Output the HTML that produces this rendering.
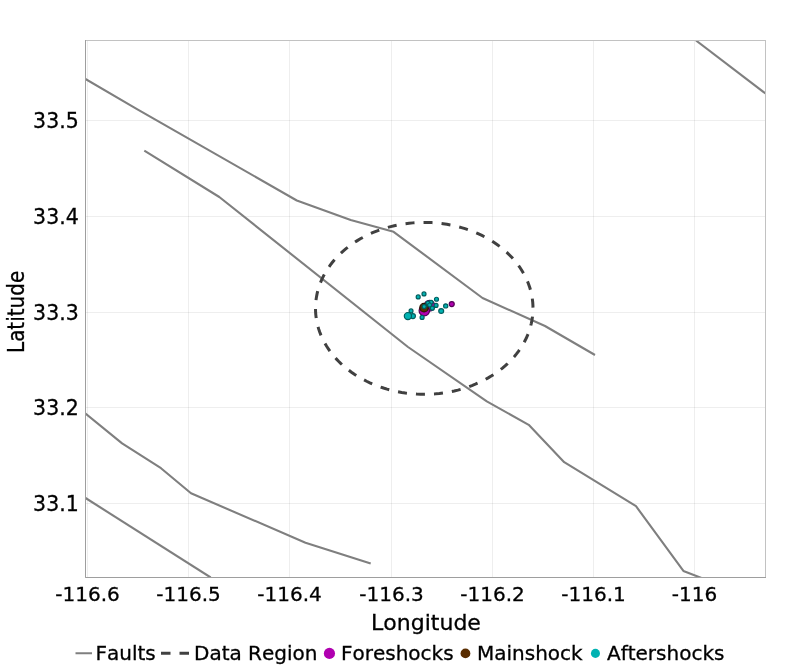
<!DOCTYPE html>
<html lang="en"><head><meta charset="utf-8"><title>Fault map</title>
<style>html,body{margin:0;padding:0;background:#fff}svg{display:block}text{font-kerning:none;stroke:#000;stroke-width:0.3px;font-family:"DejaVu Sans","Liberation Sans",sans-serif;fill:#000}</style></head><body>
<svg width="800" height="668" viewBox="0 0 800 668">
<rect width="800" height="668" fill="#fff"/>
<defs><clipPath id="c"><rect x="85.5" y="40.5" width="680" height="537"/></clipPath></defs>
<g stroke="#000" stroke-opacity="0.065" stroke-width="1" fill="none">
<line x1="87.5" y1="40.5" x2="87.5" y2="577.5"/>
<line x1="188.5" y1="40.5" x2="188.5" y2="577.5"/>
<line x1="289.5" y1="40.5" x2="289.5" y2="577.5"/>
<line x1="391.5" y1="40.5" x2="391.5" y2="577.5"/>
<line x1="492.5" y1="40.5" x2="492.5" y2="577.5"/>
<line x1="593.5" y1="40.5" x2="593.5" y2="577.5"/>
<line x1="694.5" y1="40.5" x2="694.5" y2="577.5"/>
<line x1="85.5" y1="120.5" x2="765.5" y2="120.5"/>
<line x1="85.5" y1="216.5" x2="765.5" y2="216.5"/>
<line x1="85.5" y1="312.5" x2="765.5" y2="312.5"/>
<line x1="85.5" y1="407.5" x2="765.5" y2="407.5"/>
<line x1="85.5" y1="503.5" x2="765.5" y2="503.5"/>
</g>
<g clip-path="url(#c)">
<g stroke="#7f7f7f" stroke-width="2.1" fill="none" stroke-linejoin="round">
<polyline points="85.4,78.9 137,109.1 296.8,200.5 350.7,220 393.6,231.8 482.5,298 545,326 595,355"/>
<polyline points="144.3,150.7 219.3,197 408,347 486.8,401.4 528.7,424.8 564.2,462.2 636,506.2 683.4,570.9 701.5,578"/>
<polyline points="696,40.5 765.5,93.5"/>
<polyline points="85.5,413.6 122.1,443.4 161,468.2 191,493.3 305.5,542.7 370.7,563.4"/>
<polyline points="85.5,498 210.7,577.5"/>
</g>
<polyline fill="none" stroke="#404040" stroke-width="3" stroke-dasharray="9,9.05" stroke-dashoffset="-0.75" points="533.00,308.35 532.93,305.35 532.74,302.35 532.40,299.37 531.94,296.39 531.35,293.42 530.62,290.48 529.77,287.56 528.79,284.66 527.68,281.79 526.44,278.95 525.08,276.15 523.60,273.39 521.99,270.67 520.27,268.00 518.43,265.38 516.48,262.80 514.41,260.29 512.23,257.83 509.95,255.43 507.56,253.10 505.07,250.84 502.48,248.64 499.79,246.52 497.02,244.48 494.15,242.51 491.20,240.62 488.17,238.81 485.06,237.09 481.88,235.46 478.62,233.92 475.31,232.46 471.92,231.10 468.48,229.83 464.99,228.66 461.44,227.58 457.86,226.61 454.23,225.73 450.56,224.95 446.86,224.28 443.13,223.71 439.39,223.24 435.62,222.87 431.84,222.61 428.05,222.45 424.25,222.40 420.45,222.45 416.66,222.61 412.88,222.87 409.11,223.24 405.37,223.71 401.64,224.28 397.94,224.95 394.27,225.73 390.64,226.61 387.06,227.58 383.51,228.66 380.02,229.83 376.58,231.10 373.19,232.46 369.88,233.92 366.62,235.46 363.44,237.09 360.33,238.81 357.30,240.62 354.35,242.51 351.48,244.48 348.71,246.52 346.02,248.64 343.43,250.84 340.94,253.10 338.55,255.43 336.27,257.83 334.09,260.29 332.02,262.80 330.07,265.38 328.23,268.00 326.51,270.67 324.90,273.39 323.42,276.15 322.06,278.95 320.82,281.79 319.71,284.66 318.73,287.56 317.88,290.48 317.15,293.42 316.56,296.39 316.10,299.37 315.76,302.35 315.57,305.35 315.50,308.35 315.57,311.35 315.76,314.35 316.10,317.33 316.56,320.31 317.15,323.28 317.88,326.22 318.73,329.14 319.71,332.04 320.82,334.91 322.06,337.75 323.42,340.55 324.90,343.31 326.51,346.03 328.23,348.70 330.07,351.33 332.02,353.90 334.09,356.41 336.27,358.87 338.55,361.27 340.94,363.60 343.43,365.86 346.02,368.06 348.71,370.18 351.48,372.22 354.35,374.19 357.30,376.08 360.33,377.89 363.44,379.61 366.62,381.24 369.87,382.78 373.19,384.24 376.58,385.60 380.02,386.87 383.51,388.04 387.06,389.12 390.64,390.09 394.27,390.97 397.94,391.75 401.64,392.42 405.37,392.99 409.11,393.46 412.88,393.83 416.66,394.09 420.45,394.25 424.25,394.30 428.05,394.25 431.84,394.09 435.62,393.83 439.39,393.46 443.13,392.99 446.86,392.42 450.56,391.75 454.23,390.97 457.86,390.09 461.44,389.12 464.99,388.04 468.48,386.87 471.92,385.60 475.31,384.24 478.62,382.78 481.88,381.24 485.06,379.61 488.17,377.89 491.20,376.08 494.15,374.19 497.02,372.22 499.79,370.18 502.48,368.06 505.07,365.86 507.56,363.60 509.95,361.27 512.23,358.87 514.41,356.41 516.48,353.90 518.43,351.33 520.27,348.70 521.99,346.03 523.60,343.31 525.08,340.55 526.44,337.75 527.68,334.91 528.79,332.04 529.77,329.14 530.62,326.22 531.35,323.28 531.94,320.31 532.40,317.33 532.74,314.35 532.93,311.35 533.00,308.35"/>
<g fill="#b000b0" stroke="#560056" stroke-width="1.2">
<circle cx="429.5" cy="305.8" r="5.40"/>
<circle cx="424.3" cy="310.7" r="5.20"/>
<circle cx="451.75" cy="304.05" r="2.50"/>
</g>
<g fill="#592d00" stroke="#2a1400" stroke-width="1.2">
<circle cx="424.05" cy="307.65" r="4.25"/>
</g>
<g fill="#00b2b2" stroke="#005e5e" stroke-width="1.2">
<circle cx="418.2" cy="296.9" r="2.00"/>
<circle cx="424" cy="293.9" r="2.00"/>
<circle cx="436.5" cy="299.25" r="2.00"/>
<circle cx="445.7" cy="305.9" r="2.10"/>
<circle cx="441.2" cy="311" r="2.45"/>
<circle cx="436.1" cy="305.4" r="1.95"/>
<circle cx="432.3" cy="308.2" r="2.00"/>
<circle cx="431.1" cy="302.3" r="2.00"/>
<circle cx="427.9" cy="303.1" r="2.00"/>
<circle cx="429.6" cy="305.0" r="2.00"/>
<circle cx="424.2" cy="306.6" r="2.00"/>
<circle cx="422.1" cy="317.4" r="2.00"/>
<circle cx="411.05" cy="310.9" r="1.95"/>
<circle cx="412.9" cy="316.1" r="2.50"/>
<circle cx="407.9" cy="316.1" r="3.60"/>
</g>
</g>
<rect x="85.5" y="40.5" width="680.0" height="537.0" fill="none" stroke="#c2c2c2" stroke-width="1"/>
<path d="M85.5,40.0V577.5H766.0" fill="none" stroke="#9e9e9e" stroke-width="1"/>
<g font-size="20px" text-anchor="middle">
<text x="87.5" y="600.5">-116.6</text>
<text x="188.5" y="600.5">-116.5</text>
<text x="289.5" y="600.5">-116.4</text>
<text x="391.5" y="600.5">-116.3</text>
<text x="492.5" y="600.5">-116.2</text>
<text x="593.5" y="600.5">-116.1</text>
<text x="694.5" y="600.5">-116</text>
</g>
<g font-size="20.5px">
<text x="33.1" y="127.9">33.5</text>
<text x="33.1" y="223.9">33.4</text>
<text x="33.1" y="319.9">33.3</text>
<text x="33.1" y="414.9">33.2</text>
<text x="33.1" y="510.9">33.1</text>
</g>
<text x="426" y="630" font-size="22px" text-anchor="middle">Longitude</text>
<text transform="translate(24.4,311.9) rotate(-90)" font-size="22.2px" font-stretch="condensed" style="font-stretch:condensed" text-anchor="middle">Latitude</text>
<line x1="75.5" y1="653.25" x2="92" y2="653.25" stroke="#7f7f7f" stroke-width="2"/>
<line x1="161" y1="653.25" x2="189" y2="653.25" stroke="#404040" stroke-width="3" stroke-dasharray="9.5,9"/>
<circle cx="329.45" cy="653.4" r="5.6" fill="#b000b0"/>
<circle cx="465.45" cy="653.4" r="4.9" fill="#592d00"/>
<circle cx="595.45" cy="653.4" r="4.55" fill="#00b2b2"/>
<g font-size="20px">
<text x="95.5" y="660">Faults</text>
<text x="194" y="660">Data Region</text>
<text x="341" y="660">Foreshocks</text>
<text x="477" y="660">Mainshock</text>
<text x="607" y="660">Aftershocks</text>
</g>
</svg></body></html>
